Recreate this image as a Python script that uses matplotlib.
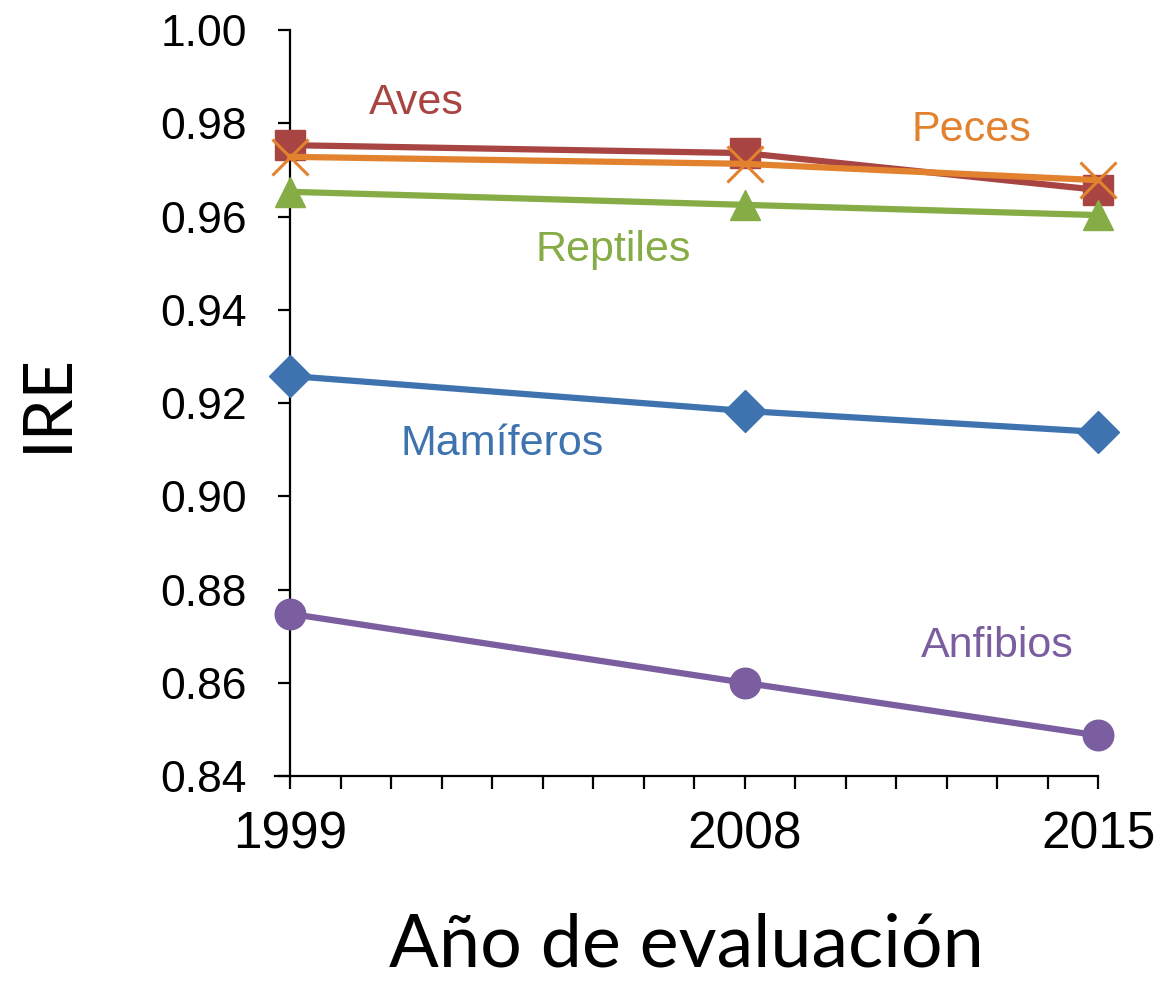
import matplotlib
matplotlib.use("Agg")
import matplotlib.pyplot as plt
from matplotlib.ticker import FixedLocator

years = [1999, 2008, 2015]
aves = [0.9753, 0.9736, 0.9657]
peces = [0.9728, 0.9713, 0.9678]
reptiles = [0.9653, 0.9625, 0.9603]
mamiferos = [0.9258, 0.9183, 0.9138]
anfibios = [0.8748, 0.8600, 0.8487]
yticks = [0.84, 0.86, 0.88, 0.90, 0.92, 0.94, 0.96, 0.98, 1.00]

plt.rcParams['font.family'] = ['Liberation Sans', 'DejaVu Sans']

fig = plt.figure(figsize=(11.62, 9.86), dpi=100)
ax = fig.add_axes([275/1162, 1-776/986, (1098-275)/1162, (776-30)/986])

c_aves = '#A84442'
c_peces = '#E2822F'
c_rep = '#86AC45'
c_mam = '#3F73B0'
c_anf = '#7B5E9F'

lw = 4.5
ax.plot(years, mamiferos, color=c_mam, lw=lw, marker='D', ms=21, mec=c_mam, mfc=c_mam, clip_on=False, zorder=3)
ax.plot(years, anfibios, color=c_anf, lw=lw, marker='o', ms=22, mec=c_anf, mfc=c_anf, clip_on=False, zorder=3)
ax.plot(years, aves, color=c_aves, lw=lw, marker='s', ms=21, mec=c_aves, mfc=c_aves, clip_on=False, zorder=3)
ax.plot(years, reptiles, color=c_rep, lw=lw, marker='^', ms=22, mec=c_rep, mfc=c_rep, clip_on=False, zorder=3)
ax.plot(years, peces, color=c_peces, lw=lw, marker='x', ms=26, mew=2.2, mec=c_peces, clip_on=False, zorder=4)

ax.set_xlim(1998.7, 2015)
ax.set_ylim(0.84, 1.00)
ax.spines['left'].set_position(('data', 1999))
ax.spines['top'].set_visible(False)
ax.spines['right'].set_visible(False)
for s in ['left', 'bottom']:
    ax.spines[s].set_linewidth(1.6)

ax.xaxis.set_major_locator(FixedLocator(years))
ax.xaxis.set_minor_locator(FixedLocator(list(range(1999, 2016))))
ax.set_yticks(yticks)
ax.set_yticklabels([f"{v:.2f}" for v in yticks], fontsize=32)
ax.set_xticklabels([str(y) for y in years], fontsize=37)
ax.tick_params(axis='both', which='both', direction='out', width=1.6, length=9)
ax.tick_params(axis='x', which='major', pad=16)
ax.tick_params(axis='y', which='major', pad=22)

ax.set_xlabel("Año de evaluación", fontsize=53, family=['Lato', 'DejaVu Sans'], labelpad=38)
ax.set_ylabel("IRE", fontsize=48, family=['Lato', 'DejaVu Sans'], labelpad=59)

lab_fs = 31
ax.text(2001.5, 0.9843, "Aves", color=c_aves, fontsize=lab_fs, ha='center', va='center')
ax.text(2012.5, 0.9785, "Peces", color=c_peces, fontsize=lab_fs, ha='center', va='center')
ax.text(2005.4, 0.9528, "Reptiles", color=c_rep, fontsize=lab_fs, ha='center', va='center')
ax.text(2003.2, 0.9113, "Mamíferos", color=c_mam, fontsize=lab_fs, ha='center', va='center')
ax.text(2013.0, 0.8679, "Anfibios", color=c_anf, fontsize=lab_fs, ha='center', va='center')

fig.savefig("out.png", dpi=100)
